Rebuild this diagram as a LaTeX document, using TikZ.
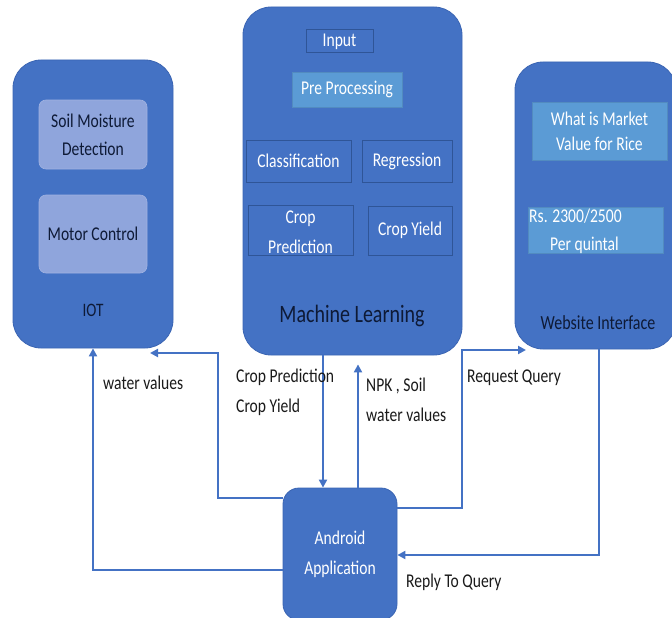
\documentclass[tikz,border=0pt]{standalone}
\usepackage{fontspec}
\setmainfont{Carlito}[FakeStretch=0.8]
\usetikzlibrary{arrows.meta}
\definecolor{mainblue}{HTML}{4472C4}
\definecolor{edgeblue}{HTML}{3B65B3}
\definecolor{darkedge}{HTML}{2F5597}
\definecolor{greyblue}{HTML}{8FA5DC}
\definecolor{lightblue}{HTML}{5B9BD5}
\definecolor{darktext}{HTML}{0E1A36}
\definecolor{labeltext}{HTML}{1A1A1A}
\tikzset{
  bigbox/.style={draw=edgeblue, line width=0.8pt, fill=mainblue, rounded corners=28pt, inner sep=0pt},
  iotinner/.style={draw=greyblue!85!white, line width=0.6pt, fill=greyblue, rounded corners=7pt, inner sep=0pt, align=center, text=darktext},
  mlinner/.style={draw=darkedge, line width=1pt, fill=mainblue, inner sep=0pt, align=center, text=white},
  lightinner/.style={draw=lightblue!90!black, line width=0.5pt, fill=lightblue, inner sep=0pt, align=center, text=white},
  boxtitle/.style={text=darktext, inner sep=0pt},
  conn/.style={draw=mainblue, line width=2.4pt, -{Triangle[length=8pt,width=8pt]}},
  connlabel/.style={text=labeltext, inner sep=0pt, align=left, anchor=west}
}
\newcommand{\fs}[1]{\fontsize{19.5}{#1}\selectfont}
\begin{document}
\begin{tikzpicture}[x=1pt,y=-1pt]
\useasboundingbox (0,0) rectangle (672,618);
\fill[white] (0,0) rectangle (672,618);

% main boxes
\node[bigbox, minimum width=160pt, minimum height=288pt] (iot) at (93,204) {};
\node[bigbox, minimum width=219pt, minimum height=348pt] (ml) at (352.5,181) {};
\node[bigbox, minimum width=161pt, minimum height=287pt] (web) at (595.5,205.5) {};
\node[bigbox, rounded corners=16pt, minimum width=114pt, minimum height=132pt, align=center, text=white, font=\fs{30}] (and) at (340,554) {Android\\Application};

% IOT inner
\node[iotinner, minimum width=108pt, minimum height=69pt, font=\fs{28}] (soil) at (93,134.5) {Soil Moisture\\Detection};
\node[iotinner, minimum width=108pt, minimum height=78pt, font=\fs{24}] (motor) at (93,234) {Motor Control};
\node[boxtitle, font=\fontsize{19}{23}\selectfont] (iotlbl) at (93,310) {IOT};

% ML inner
\node[mlinner, minimum width=67pt, minimum height=23pt, font=\fs{24}] (input) at (339.5,41.5) {Input};
\node[lightinner, minimum width=110pt, minimum height=35pt, font=\fs{24}] (pre) at (347,89.5) {Pre Processing};
\node[mlinner, minimum width=105pt, minimum height=42pt, font=\fs{24}] (cls) at (298.5,161) {Classification};
\node[mlinner, minimum width=90pt, minimum height=42pt, font=\fs{24}] (reg) at (407,161) {Regression};
\node[mlinner, minimum width=105pt, minimum height=50pt] (cpred) at (300.5,230) {};
\node[text=white, align=center, inner sep=0pt, font=\fs{30}] (cpredtxt) at (300.5,232) {Crop\\Prediction};
\node[mlinner, minimum width=84pt, minimum height=49pt, font=\fs{24}] (cyield) at (410,230.5) {Crop Yield};
\node[boxtitle, font=\fontsize{25}{30}\selectfont] (mllbl) at (352,316) {Machine Learning};

% Website inner
\node[lightinner, minimum width=135pt, minimum height=58pt, font=\fs{25}] (what) at (599.5,131) {What is Market\\Value for Rice};
\node[lightinner, minimum width=135pt, minimum height=46pt] (rs) at (595.5,230) {};
\node[text=white, align=left, inner sep=0pt, anchor=west, font=\fs{28}] (rstxt) at (529,231) {Rs. 2300/2500\\\hspace*{21pt}Per quintal};
\node[boxtitle, font=\fontsize{20}{24}\selectfont] (weblbl) at (598,323) {Website Interface};

% helper coordinates
\coordinate (k1) at (218,353);
\coordinate (iotin) at (150,353);
\coordinate (k2) at (462,350);
\coordinate (webin) at (526,350);

% connectors
\draw[conn] ([yshift=-16pt]and.west) -| (iot.south);
\draw[conn] ([yshift=56pt]and.west) -| (k1) -- (iotin);
\draw[conn] ([xshift=-29.5pt]ml.south) -- ([xshift=-29.5pt]ml.south |- and.north);
\draw[conn, shorten >=9pt] ([xshift=18pt]and.north) -- ([xshift=18pt]and.north |- ml.south);
\draw[conn] ([yshift=46pt]and.east) -| (k2) -- (webin);
\draw[conn] ([xshift=3.5pt]web.south) |- ([yshift=-1pt]and.east);

% labels
\node[connlabel, font=\fs{24}] (lwater) at (103,383) {water values};
\node[connlabel, font=\fs{30}] (lcrop) at (236,392) {Crop Prediction\\Crop Yield};
\node[connlabel, font=\fs{30}] (lnpk) at (366,400) {NPK , Soil\\water values};
\node[connlabel, font=\fs{24}] (lreq) at (467,378) {Request Query};
\node[connlabel, font=\fs{24}] (lrep) at (406,582) {Reply To Query};
\end{tikzpicture}
\end{document}
